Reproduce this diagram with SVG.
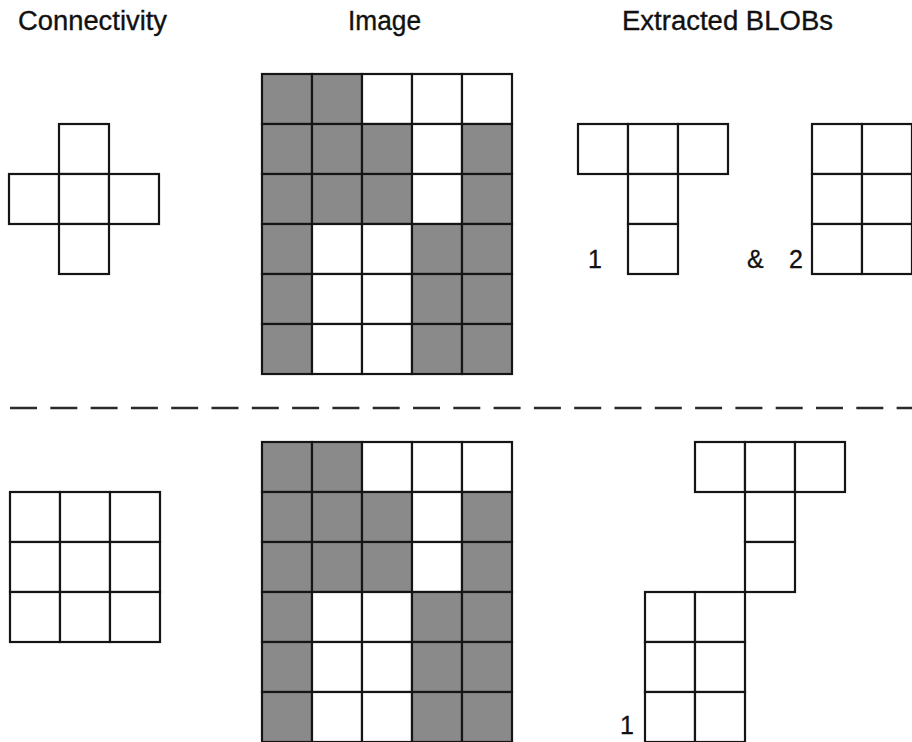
<svg xmlns="http://www.w3.org/2000/svg" width="912" height="742" viewBox="0 0 912 742">
<style>
.c{fill:#fff;stroke:#151515;stroke-width:2.2}
.g{fill:#8a8a8a;stroke:#151515;stroke-width:2.2}
.h{font-family:"Liberation Sans",Arial,sans-serif;font-size:27px;fill:#111;stroke:#111;stroke-width:0.35}
.n{font-family:"Liberation Sans",Arial,sans-serif;font-size:25px;fill:#111;stroke:#111;stroke-width:0.3}
</style>
<defs>
<rect id="w" class="c" width="50" height="50"/>
<rect id="k" class="g" width="50" height="50"/>
<g id="img">
<use href="#k" x="0" y="0"/><use href="#k" x="50" y="0"/><use href="#w" x="100" y="0"/><use href="#w" x="150" y="0"/><use href="#w" x="200" y="0"/>
<use href="#k" x="0" y="50"/><use href="#k" x="50" y="50"/><use href="#k" x="100" y="50"/><use href="#w" x="150" y="50"/><use href="#k" x="200" y="50"/>
<use href="#k" x="0" y="100"/><use href="#k" x="50" y="100"/><use href="#k" x="100" y="100"/><use href="#w" x="150" y="100"/><use href="#k" x="200" y="100"/>
<use href="#k" x="0" y="150"/><use href="#w" x="50" y="150"/><use href="#w" x="100" y="150"/><use href="#k" x="150" y="150"/><use href="#k" x="200" y="150"/>
<use href="#k" x="0" y="200"/><use href="#w" x="50" y="200"/><use href="#w" x="100" y="200"/><use href="#k" x="150" y="200"/><use href="#k" x="200" y="200"/>
<use href="#k" x="0" y="250"/><use href="#w" x="50" y="250"/><use href="#w" x="100" y="250"/><use href="#k" x="150" y="250"/><use href="#k" x="200" y="250"/>
</g>
</defs>

<g id="headers">
<text class="h" x="18" y="30" textLength="149" lengthAdjust="spacingAndGlyphs">Connectivity</text>
<text class="h" x="348" y="30" textLength="73" lengthAdjust="spacingAndGlyphs">Image</text>
<text class="h" x="622" y="30" textLength="211" lengthAdjust="spacingAndGlyphs">Extracted BLOBs</text>
</g>

<g id="conn4">
<use href="#w" x="59" y="124"/>
<use href="#w" x="9" y="174"/><use href="#w" x="59" y="174"/><use href="#w" x="109" y="174"/>
<use href="#w" x="59" y="224"/>
</g>

<g id="image-top"><use href="#img" x="262" y="74"/></g>

<g id="blob4-1">
<use href="#w" x="578" y="124"/><use href="#w" x="628" y="124"/><use href="#w" x="678" y="124"/>
<use href="#w" x="628" y="174"/><use href="#w" x="628" y="224"/>
<text class="n" x="588" y="268">1</text>
</g>

<g id="blob4-2">
<use href="#w" x="812" y="124"/><use href="#w" x="862" y="124"/>
<use href="#w" x="812" y="174"/><use href="#w" x="862" y="174"/>
<use href="#w" x="812" y="224"/><use href="#w" x="862" y="224"/>
<text class="n" x="747" y="268" textLength="56" lengthAdjust="spacing">&amp; 2</text>
</g>

<g id="separator">
<line x1="10" y1="408" x2="912" y2="408" stroke="#2a2a2a" stroke-width="2.5" stroke-dasharray="27 13.3"/>
</g>

<g id="conn8">
<use href="#w" x="10" y="492"/><use href="#w" x="60" y="492"/><use href="#w" x="110" y="492"/>
<use href="#w" x="10" y="542"/><use href="#w" x="60" y="542"/><use href="#w" x="110" y="542"/>
<use href="#w" x="10" y="592"/><use href="#w" x="60" y="592"/><use href="#w" x="110" y="592"/>
</g>

<g id="image-bottom"><use href="#img" x="262" y="442"/></g>

<g id="blob8-1">
<use href="#w" x="695" y="442"/><use href="#w" x="745" y="442"/><use href="#w" x="795" y="442"/>
<use href="#w" x="745" y="492"/><use href="#w" x="745" y="542"/>
<use href="#w" x="645" y="592"/><use href="#w" x="695" y="592"/>
<use href="#w" x="645" y="642"/><use href="#w" x="695" y="642"/>
<use href="#w" x="645" y="692"/><use href="#w" x="695" y="692"/>
<text class="n" x="620" y="734">1</text>
</g>
</svg>
